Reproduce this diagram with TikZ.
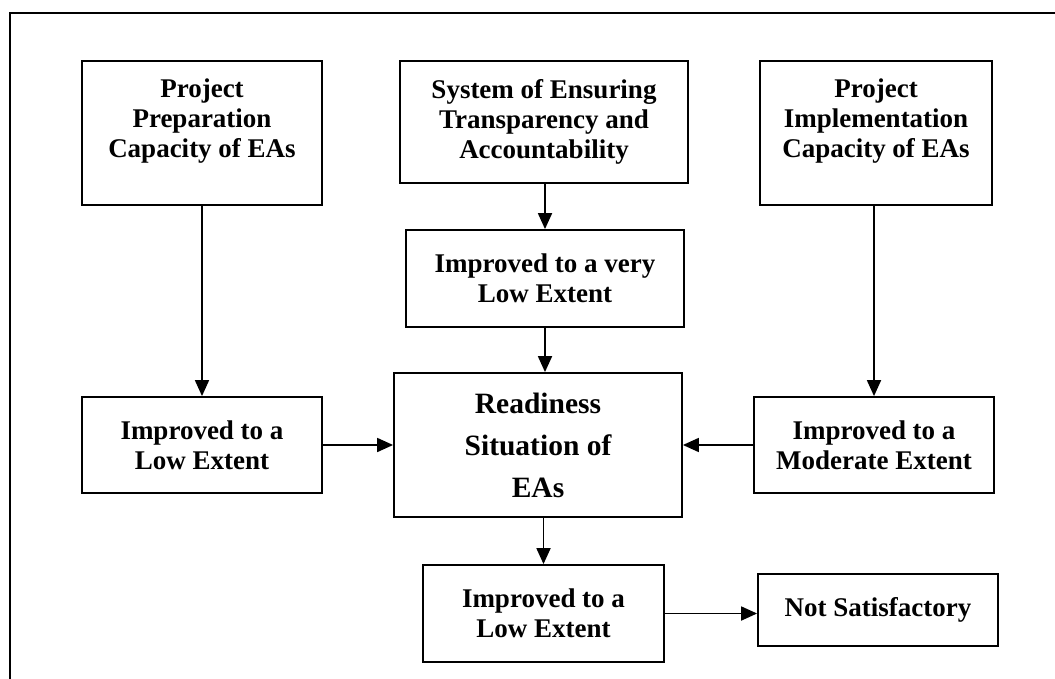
\documentclass[tikz,border=0pt]{standalone}
\usepackage{fontspec}
\setmainfont{Liberation Serif}
\usetikzlibrary{arrows.meta, positioning}

\begin{document}
\begin{tikzpicture}[
    x=1pt, y=-1pt,
    every node/.style={font=\bfseries\fontsize{27}{30}\selectfont},
    box/.style={rectangle, draw=black, line width=1.8pt, inner sep=0pt, align=center},
    topbox/.style={box, text depth=30pt},
    mainbox/.style={box, font=\bfseries\fontsize{29.5}{42}\selectfont},
    arr/.style={-{Triangle[length=16pt, width=14pt]}, line width=1.8pt}
]
\useasboundingbox (0,0) rectangle (1055,679);
% frame, cut at the right and bottom
\draw[line width=1.8pt] (10,679) -- (10,13) -- (1055,13);

\node[topbox, minimum width=240pt, minimum height=144pt] (prep) at (202,133) {Project\\Preparation\\Capacity of EAs};
\node[box, minimum width=288pt, minimum height=122pt] (transp) at (544,122) {System of Ensuring\\Transparency and\\Accountability};
\node[topbox, minimum width=232pt, minimum height=144pt] (impl) at (876,133) {Project\\Implementation\\Capacity of EAs};

\node[box, minimum width=278pt, minimum height=97pt] (vlow) at (545,278.5) {Improved to a very\\Low Extent};
\node[box, minimum width=240pt, minimum height=96pt] (lowleft) at (202,445) {Improved to a\\Low Extent};
\node[mainbox, minimum width=288pt, minimum height=144pt] (ready) at (538,445) {Readiness\\Situation of\\EAs};
\node[box, minimum width=240pt, minimum height=96pt] (moder) at (874,445) {Improved to a\\Moderate Extent};
\node[box, minimum width=241pt, minimum height=97pt] (lowbot) at (543.5,613.5) {Improved to a\\Low Extent};
\node[box, minimum width=240pt, minimum height=72pt] (notsat) at (878,610) {Not Satisfactory};

\draw[arr] (prep.south) -- (lowleft.north);
\draw[arr] (impl.south -| moder.north) -- (moder.north);
\draw[arr] (transp.south -| vlow.north) -- (vlow.north);
\draw[arr] (vlow.south) -- (vlow.south |- ready.north);
\draw[arr] (lowleft.east) -- (ready.west);
\draw[arr] (moder.west) -- (ready.east);
\draw[arr] (ready.south -| lowbot.north) -- (lowbot.north);
\draw[arr] (lowbot.east) -- (lowbot.east -| notsat.west);
\end{tikzpicture}
\end{document}
